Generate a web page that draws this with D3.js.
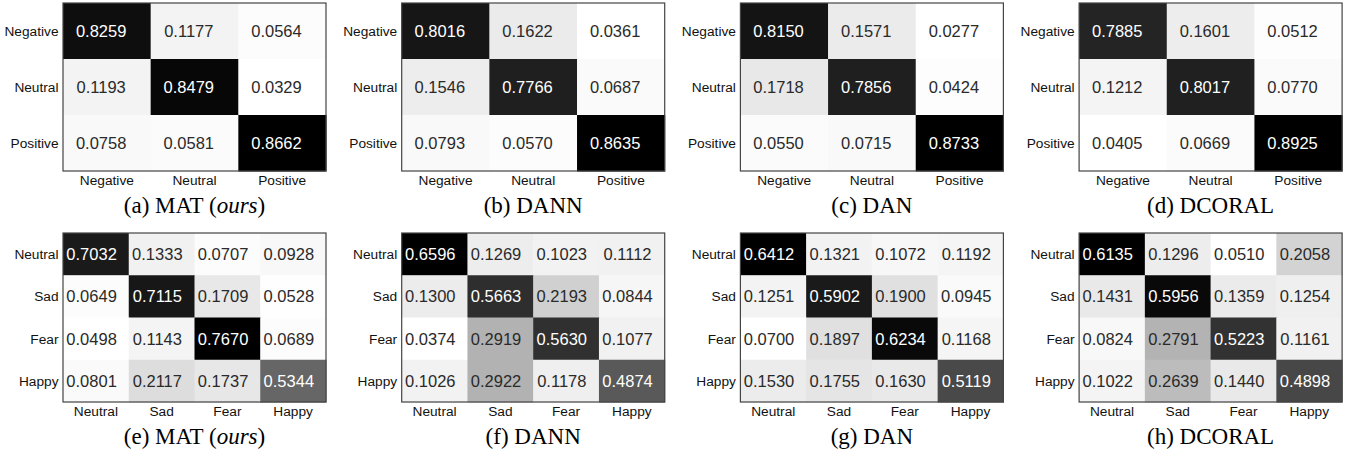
<!DOCTYPE html>
<html>
<head>
<meta charset="utf-8">
<script src="https://cdn.jsdelivr.net/npm/d3@7"></script>
<style>
  body { margin: 0; background: #fff; }
  svg { display: block; }
</style>
</head>
<body>
<div></div>
<script>
const w = 1351;
const h = 456;

const sentiment = ["Negative", "Neutral", "Positive"];
const emotion = ["Neutral", "Sad", "Fear", "Happy"];
const captions = ["MAT", "DANN", "DAN", "DCORAL"];

// 3-class sentiment matrices (rows = true, cols = predicted)
const matA = [[0.8259, 0.1177, 0.0564], [0.1193, 0.8479, 0.0329], [0.0758, 0.0581, 0.8662]];
const matB = [[0.8016, 0.1622, 0.0361], [0.1546, 0.7766, 0.0687], [0.0793, 0.0570, 0.8635]];
const matC = [[0.8150, 0.1571, 0.0277], [0.1718, 0.7856, 0.0424], [0.0550, 0.0715, 0.8733]];
const matD = [[0.7885, 0.1601, 0.0512], [0.1212, 0.8017, 0.0770], [0.0405, 0.0669, 0.8925]];

// 4-class emotion matrices
const matE = [[0.7032, 0.1333, 0.0707, 0.0928], [0.0649, 0.7115, 0.1709, 0.0528], [0.0498, 0.1143, 0.7670, 0.0689], [0.0801, 0.2117, 0.1737, 0.5344]];
const matF = [[0.6596, 0.1269, 0.1023, 0.1112], [0.1300, 0.5663, 0.2193, 0.0844], [0.0374, 0.2919, 0.5630, 0.1077], [0.1026, 0.2922, 0.1178, 0.4874]];
const matG = [[0.6412, 0.1321, 0.1072, 0.1192], [0.1251, 0.5902, 0.1900, 0.0945], [0.0700, 0.1897, 0.6234, 0.1168], [0.1530, 0.1755, 0.1630, 0.5119]];
const matH = [[0.6135, 0.1296, 0.0510, 0.2058], [0.1431, 0.5956, 0.1359, 0.1254], [0.0824, 0.2791, 0.5223, 0.1161], [0.1022, 0.2639, 0.1440, 0.4898]];

const greys = ["#ffffff", "#f0f0f0", "#d9d9d9", "#bdbdbd", "#969696", "#737373", "#525252", "#252525", "#000000"];

const svg = d3.select("div").append("svg").attr("width", w).attr("height", h);

const boxW = 263;
const step = 338.7;
const left0 = 63;

const panels = [
  { m: matA, labels: sentiment, tag: "a", name: 0, top: 3, bottom: 171, tickY: 180, capY: 205 },
  { m: matB, labels: sentiment, tag: "b", name: 1, top: 3, bottom: 171, tickY: 180, capY: 205 },
  { m: matC, labels: sentiment, tag: "c", name: 2, top: 3, bottom: 171, tickY: 180, capY: 205 },
  { m: matD, labels: sentiment, tag: "d", name: 3, top: 3, bottom: 171, tickY: 180, capY: 205 },
  { m: matE, labels: emotion, tag: "e", name: 0, top: 233, bottom: 402, tickY: 411, capY: 436 },
  { m: matF, labels: emotion, tag: "f", name: 1, top: 233, bottom: 402, tickY: 411, capY: 436 },
  { m: matG, labels: emotion, tag: "g", name: 2, top: 233, bottom: 402, tickY: 411, capY: 436 },
  { m: matH, labels: emotion, tag: "h", name: 3, top: 233, bottom: 402, tickY: 411, capY: 436 }
];

panels.forEach((p) => {
  const x0 = left0 + step * p.name;
  const x = d3.scaleBand().domain(p.labels).range([x0, x0 + boxW]);
  const y = d3.scaleBand().domain(p.labels).range([p.top, p.bottom]);

  const cells = [];
  p.m.forEach((row, i) => row.forEach((v, j) => cells.push({ r: p.labels[i], c: p.labels[j], v: v })));
  const lo = d3.min(cells, (d) => d.v);
  const hi = d3.max(cells, (d) => d.v);
  const norm = d3.scaleLinear().domain([lo, hi]).range([0, 1]);
  const color = d3
    .scaleLinear()
    .domain(d3.range(greys.length).map((k) => k / (greys.length - 1)))
    .range(greys);

  const g = svg.append("g");

  g.selectAll("rect.cell")
    .data(cells)
    .enter()
    .append("rect")
    .attr("class", "cell")
    .attr("x", (d) => x(d.c))
    .attr("y", (d) => y(d.r))
    .attr("width", x.bandwidth() + 0.5)
    .attr("height", y.bandwidth() + 0.5)
    .attr("fill", (d) => color(norm(d.v)));

  g.selectAll("text.val")
    .data(cells)
    .enter()
    .append("text")
    .attr("class", "val")
    .attr("x", (d) => x(d.c) + x.bandwidth() / 2 - 0.065 * x.bandwidth())
    .attr("y", (d) => y(d.r) + y.bandwidth() / 2 + 6)
    .attr("text-anchor", "middle")
    .style("font-family", "'Liberation Sans', Arial, sans-serif")
    .style("font-size", "16.5px")
    .attr("fill", (d) => (norm(d.v) > 0.5 ? "#fff" : "#2a2a2a"))
    .text((d) => d.v.toFixed(4));

  g.append("rect")
    .attr("x", x0)
    .attr("y", p.top)
    .attr("width", boxW)
    .attr("height", p.bottom - p.top)
    .attr("fill", "none")
    .attr("stroke", "#444")
    .attr("stroke-width", 1.2);

  // row labels
  g.selectAll("text.ylab")
    .data(p.labels)
    .enter()
    .append("text")
    .attr("class", "ylab")
    .attr("x", x0 - 4.5)
    .attr("y", (d) => y(d) + y.bandwidth() / 2 + 5)
    .attr("text-anchor", "end")
    .style("font-family", "'Liberation Sans', Arial, sans-serif")
    .style("font-size", "13.7px")
    .attr("fill", "#111")
    .text((d) => d);

  // column labels
  g.selectAll("text.xlab")
    .data(p.labels)
    .enter()
    .append("text")
    .attr("class", "xlab")
    .attr("x", (d) => x(d) + x.bandwidth() / 2)
    .attr("y", p.tickY + 5)
    .attr("text-anchor", "middle")
    .style("font-family", "'Liberation Sans', Arial, sans-serif")
    .style("font-size", "13.7px")
    .attr("fill", "#111")
    .text((d) => d);

  const cap = g
    .append("text")
    .attr("x", x0 + boxW / 2)
    .attr("y", p.capY + 8)
    .attr("text-anchor", "middle")
    .style("font-family", "'Liberation Serif', 'Times New Roman', serif")
    .style("font-size", "23px")
    .attr("fill", "#000");
  cap.append("tspan").text("(" + p.tag + ") " + captions[p.name]);
  if (p.name === 0) {
    cap.append("tspan").text(" (");
    cap.append("tspan").style("font-style", "italic").text("ours");
    cap.append("tspan").text(")");
  }
});
</script>
</body>
</html>
